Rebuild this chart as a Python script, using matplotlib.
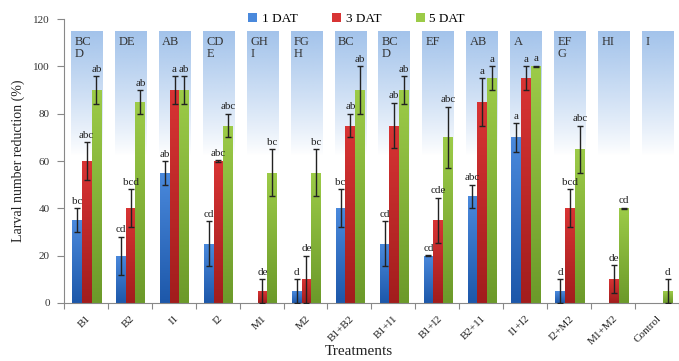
import matplotlib
matplotlib.use("Agg")
import matplotlib.pyplot as plt
import numpy as np
from matplotlib.patches import Patch
from matplotlib.colors import to_rgb

categories = ["B1", "B2", "I1", "I2", "M1", "M2", "B1+B2", "B1+I1", "B1+I2",
              "B2+I1", "I1+I2", "I2+M2", "M1+M2", "Control"]
tick_labels = ["B1", "B2", "I1", "I2", "M1", "M2", "B1+B2", "B1+I1", "B1+I2",
               "B2+11", "I1+I2", "I2+M2", "M1+M2", "Control"]
series_names = ["1 DAT", "3 DAT", "5 DAT"]
dat1 = [35, 20, 55, 25, 0, 5, 40, 25, 20, 45, 70, 5, 0, 0]
dat3 = [60, 40, 90, 60, 5, 10, 75, 75, 35, 85, 95, 40, 10, 0]
dat5 = [90, 85, 90, 75, 55, 55, 90, 90, 70, 95, 100, 65, 40, 5]
err1 = [5, 8, 5, 9.5, 0, 5, 8, 9.5, 0.3, 5, 6, 5, 0, 0]
err3 = [8, 8, 6, 0.3, 5, 10, 5, 9.6, 9.5, 10, 5, 8, 6, 0]
err5 = [6, 5, 6, 5, 10, 10, 10, 6, 13, 5, 0.3, 10, 0.3, 5]
let1 = ["bc", "cd", "ab", "cd", "", "d", "bc", "cd", "cd", "abc", "a", "d", "", ""]
let3 = ["abc", "bcd", "a", "abc", "de", "de", "ab", "ab", "cde", "a", "a", "bcd", "de", ""]
let5 = ["ab", "ab", "ab", "abc", "bc", "bc", "ab", "ab", "abc", "a", "a", "abc", "cd", "d"]
group_letters = ["BC\nD", "DE", "AB", "CD\nE", "GH\nI", "FG\nH", "BC", "BC\nD", "EF",
                 "AB", "A", "EF\nG", "HI", "I"]

serif = ["Liberation Serif", "DejaVu Serif"]
plt.rcParams['font.family'] = serif

fig = plt.figure(figsize=(6.79, 3.61), dpi=100)
ax = fig.add_axes([0.094, 0.161, 0.906, 0.786])

n = len(categories)
x = np.arange(n)
w = 0.222
colors = [("#4a89dc", "#1d58aa"), ("#d83434", "#a21d1d"), ("#9ccb48", "#6c9a2a")]

# background bands
band_top = 114.5
band_bot = 62
top_rgb = np.array(to_rgb("#9ec0ea"))
grad_n = 100
t = np.linspace(0, 1, grad_n)[:, None]
img = np.ones((grad_n, 1, 4))
img[:, 0, :3] = top_rgb
img[:, 0, 3] = (t[:, 0] ** 0.9) * 0.95
for i in range(n):
    x0, x1 = i - 0.36 + 0.02, i + 0.36 + 0.02
    ax.imshow(img, extent=(x0, x1, band_bot, band_top), origin='lower',
              aspect='auto', zorder=0.5, interpolation='bilinear')
    ax.text(x0 + 0.08, band_top - 1.5, group_letters[i], ha='left', va='top',
            fontsize=9, color='#333333', linespacing=1.05, zorder=1)

series = [dat1, dat3, dat5]
errs = [err1, err3, err5]
lets = [let1, let3, let5]
for k in range(3):
    xs = x + (k - 1) * w + 0.02
    bars = ax.bar(xs, series[k], width=w, color=colors[k][0], zorder=2,
                  linewidth=0)
    c_top = np.array(to_rgb(colors[k][0]))
    c_bot = np.array(to_rgb(colors[k][1]))
    gimg = np.zeros((50, 1, 3))
    tt = np.linspace(0, 1, 50)
    for j in range(3):
        gimg[:, 0, j] = c_bot[j] + (c_top[j] - c_bot[j]) * tt
    for b, v in zip(bars, series[k]):
        if v <= 0:
            continue
        im = ax.imshow(gimg, extent=(b.get_x(), b.get_x() + b.get_width(), 0, v),
                       origin='lower', aspect='auto', zorder=2.1,
                       interpolation='bilinear')
        im.set_clip_path(b)
    for i in range(n):
        e = errs[k][i]
        v = series[k][i]
        if e > 0:
            ax.errorbar(xs[i], v, yerr=e, fmt='none', ecolor='#222222',
                        elinewidth=1, capsize=2.5, capthick=1, zorder=3)
        if lets[k][i]:
            ax.text(xs[i], v + e + 1, lets[k][i], ha='center', va='bottom',
                    fontsize=8, color='#222222', zorder=4)

ax.set_xlim(-0.5, n - 0.5)
ax.set_ylim(0, 120)
ax.set_yticks(np.arange(0, 121, 20))
ax.set_xticks(np.arange(-0.5, n, 1.0))
ax.set_xticklabels([])
ax.set_xticks(x, minor=True)
ax.set_xticklabels(tick_labels, minor=True, rotation=45, ha='right',
                   rotation_mode='anchor', fontsize=8, color='#222222')
ax.tick_params(axis='x', which='minor', length=0, pad=8)
ax.tick_params(axis='x', which='major', length=4, color='#888888', direction='out')
ax.tick_params(axis='y', length=5, color='#888888', labelsize=8, labelcolor='#333333',
               pad=5)
for s in ['top', 'right']:
    ax.spines[s].set_visible(False)
for s in ['left', 'bottom']:
    ax.spines[s].set_color('#888888')
ax.set_ylabel("Larval number reduction (%)", fontsize=10, color='#222222', labelpad=6)
ax.set_xlabel("Treatments", fontsize=11, color='#222222')
ax.xaxis.label.set_verticalalignment('center')
ax.xaxis.set_label_coords(0.479, -0.172)

handles = [Patch(facecolor=colors[k][0], edgecolor='none') for k in range(3)]
fig.legend(handles, series_names, loc='center', bbox_to_anchor=(0.525, 0.948),
           ncol=3, frameon=False, fontsize=9.5, handlelength=0.7, handleheight=0.7,
           handletextpad=0.35, columnspacing=2.6)

fig.savefig("out.png", dpi=100)
